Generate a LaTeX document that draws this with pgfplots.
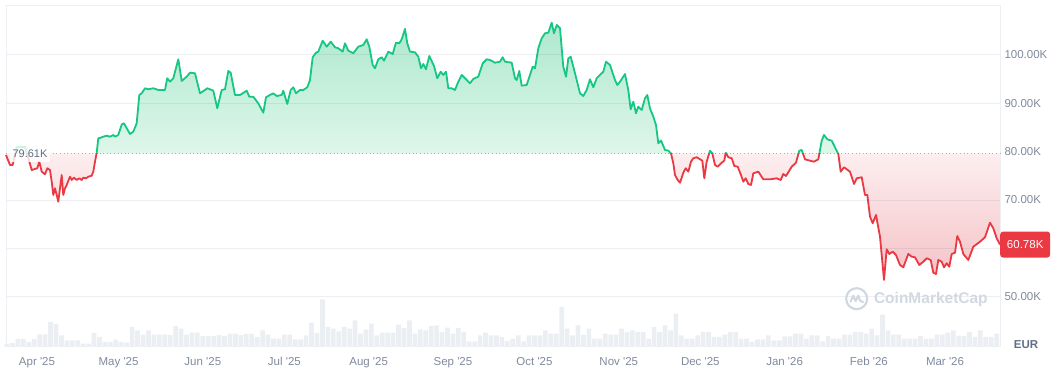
\documentclass[border=0pt]{standalone}
\usepackage{fontspec}
\setmainfont{Liberation Sans}
\usepackage{pgfplots}
\usepackage{pgfplotstable}
\pgfplotsset{compat=1.18}

\definecolor{upG}{HTML}{16C784}
\definecolor{dnR}{HTML}{EA3943}
\definecolor{fillG1}{HTML}{ADE8CE}
\definecolor{fillG2}{HTML}{DEF6EA}
\definecolor{fillR1}{HTML}{F4C2C6}
\definecolor{fillR2}{HTML}{FDEFF0}
\definecolor{gridc}{HTML}{ECEFF3}
\definecolor{gridl}{HTML}{58667E}
\definecolor{labc}{HTML}{808A9D}
\definecolor{lab2}{HTML}{616E85}
\definecolor{volc}{HTML}{EBEEF2}
\definecolor{dotc}{HTML}{A6AFC0}
\definecolor{wm}{HTML}{D2D8E2}

\pgfplotstableread{
d v
-11.40 79.31
-9.93 77.24
-8.94 77.24
-7.47 80.97
-4.41 80.97
-2.83 77.93
-1.95 76.21
0.11 76.56
0.85 77.93
1.73 75.86
2.94 75.32
3.79 76.56
4.78 76.21
5.41 73.79
6.00 71.04
6.62 72.42
7.25 71.04
7.83 69.65
8.46 72.42
9.09 75.17
9.67 71.04
10.30 72.42
10.92 73.11
12.14 74.82
12.76 74.14
13.61 74.62
14.60 74.14
15.56 74.49
16.44 74.14
17.03 74.62
18.02 74.49
18.87 74.82
20.12 75.03
20.71 75.86
21.34 77.93
21.96 79.73
22.55 82.77
23.17 82.83
24.39 83.10
25.64 83.30
26.85 83.10
28.07 83.45
28.69 83.10
29.91 83.45
31.16 85.62
32.00 85.87
33.00 84.83
34.21 83.65
35.42 84.13
36.67 85.87
37.63 91.72
38.51 92.07
39.73 93.11
40.94 92.90
42.78 93.11
44.62 92.76
47.08 92.76
47.93 95.18
48.92 94.47
50.14 95.18
51.98 99.10
53.23 94.62
55.07 95.51
56.28 96.33
58.12 96.21
59.96 92.07
61.80 92.76
62.64 93.11
64.85 92.61
66.32 88.97
67.94 92.76
69.15 92.90
70.37 96.68
71.25 96.33
72.83 91.72
74.67 91.72
77.14 92.61
78.09 91.37
79.56 91.37
81.40 90.00
83.24 88.06
84.24 91.25
85.71 91.72
86.92 92.07
88.17 91.51
90.01 91.72
90.60 92.61
92.07 89.86
93.32 92.76
94.28 93.31
95.27 92.07
96.74 92.76
97.96 92.76
99.43 93.31
100.42 94.82
101.41 99.52
102.63 100.47
103.47 100.68
105.09 102.95
106.56 101.71
108.03 102.75
109.62 101.59
110.83 101.38
112.45 100.68
113.29 102.41
114.51 100.88
116.35 100.35
118.19 101.71
120.03 102.06
121.28 103.24
122.23 101.71
123.48 97.93
124.33 97.24
125.54 99.10
126.79 99.52
127.64 98.82
129.22 100.68
130.84 100.20
132.05 102.54
133.27 102.41
134.15 103.24
135.37 105.37
136.21 102.41
137.20 100.68
139.04 100.55
140.26 99.64
141.25 97.24
142.10 98.13
143.09 97.04
144.31 99.79
146.03 97.72
147.24 95.18
148.50 96.54
149.45 95.86
150.45 96.54
151.29 93.11
152.54 93.11
153.76 92.76
154.97 94.47
156.22 95.86
157.44 95.18
159.27 94.14
160.49 95.03
162.33 95.51
163.95 98.28
165.42 99.10
166.63 98.96
168.47 98.40
170.31 98.61
171.30 99.52
172.15 98.61
174.61 98.40
175.83 95.18
176.45 94.82
177.41 96.68
178.29 93.64
180.13 93.79
181.35 95.86
182.34 97.57
183.19 97.24
184.40 101.38
185.65 103.45
186.86 104.48
188.08 104.61
189.33 106.67
190.17 104.48
191.17 106.20
192.38 105.52
193.59 97.57
194.59 95.51
195.44 99.31
196.32 99.64
197.90 96.21
199.74 92.07
200.95 91.51
202.20 92.76
203.41 94.97
204.63 93.31
205.88 95.18
207.09 95.86
208.31 96.54
209.30 98.61
210.77 97.93
212.61 94.82
213.46 93.79
214.45 94.47
216.29 96.06
217.50 92.76
218.38 88.76
219.35 90.34
220.34 87.94
221.18 89.30
222.43 88.62
223.65 91.04
224.49 91.72
225.48 88.97
226.70 87.23
227.69 85.52
228.54 81.73
229.53 82.31
231.00 80.35
232.22 80.20
233.21 79.66
234.06 77.59
234.68 75.17
235.68 74.14
236.52 73.58
237.74 75.65
238.62 76.56
239.58 75.86
240.57 77.93
241.42 78.63
242.66 78.84
243.88 78.42
244.73 78.13
245.46 74.49
246.34 77.93
247.55 80.20
248.40 79.66
249.40 77.24
250.39 76.89
251.86 77.72
252.81 78.13
253.33 79.79
254.30 78.84
255.54 78.63
256.50 77.04
257.75 76.89
258.96 75.17
259.81 73.79
260.69 74.49
261.65 73.31
262.64 73.11
263.49 75.53
265.33 75.86
267.17 74.28
269.63 74.28
272.09 74.49
273.56 74.14
274.52 75.38
275.51 74.97
277.61 76.89
279.19 77.72
280.40 80.20
281.29 80.35
282.50 78.42
284.34 78.13
285.82 77.93
287.40 78.42
288.02 80.35
288.65 82.27
289.49 83.45
290.71 82.56
292.33 82.27
293.90 80.49
294.75 79.52
295.63 75.86
296.85 76.77
299.05 75.86
300.53 73.31
301.52 74.49
303.36 74.70
304.57 71.04
305.42 71.04
306.41 66.55
307.40 65.18
308.62 66.90
310.09 62.41
311.56 53.46
312.55 59.81
313.51 58.84
314.76 59.31
315.97 58.63
317.44 56.56
318.66 56.08
320.50 58.84
321.75 58.28
322.96 58.15
324.54 56.56
326.02 57.24
327.27 57.95
328.74 57.59
329.69 54.97
330.69 54.70
331.53 57.59
332.78 57.24
333.63 56.08
334.62 56.91
335.58 56.21
336.46 58.84
337.68 59.10
338.52 62.56
339.51 61.38
340.73 58.84
342.57 57.59
344.41 60.34
346.87 61.38
348.71 62.29
350.55 65.31
351.76 64.15
353.02 62.08
354.23 60.78
}\price

\pgfplotstableread{
d vol
-11 10
-9 12
-7 24
-5 24
-3 15
-1 24
1 38
3 38
5 75
7 69
9 35
11 20
13 20
15 20
17 10
19 10
21 42
23 30
25 15
27 15
29 22
31 15
33 13
35 60
37 50
39 37
41 50
43 37
45 37
47 37
49 36
51 63
53 55
55 37
57 43
59 43
61 33
63 33
65 33
67 36
69 33
71 40
73 40
75 36
77 39
79 39
81 30
83 50
85 37
87 25
89 25
91 37
93 37
95 23
97 23
99 35
101 73
103 42
105 143
107 60
109 55
111 47
113 60
115 55
117 80
119 40
121 53
123 70
125 35
127 43
129 43
131 43
133 67
135 57
137 80
139 40
141 53
143 50
145 63
147 65
149 45
151 58
153 40
155 57
157 45
159 17
161 17
163 35
165 43
167 35
169 35
171 30
173 18
175 25
177 35
179 17
181 35
183 35
185 35
187 50
189 40
191 40
193 120
195 55
197 35
199 65
201 37
203 55
205 25
207 25
209 40
211 37
213 37
215 55
217 45
219 50
221 45
223 45
225 25
227 60
229 45
231 65
233 50
235 100
237 35
239 25
241 25
243 35
245 45
247 45
249 30
251 30
253 37
255 45
257 45
259 25
261 25
263 15
265 23
267 23
269 35
271 20
273 20
275 32
277 32
279 40
281 40
283 25
285 35
287 35
289 17
291 33
293 25
295 25
297 37
299 37
301 45
303 45
305 40
307 55
309 35
311 97
313 50
315 37
317 37
319 25
321 25
323 25
325 33
327 25
329 25
331 37
333 37
335 43
337 50
339 33
341 33
343 45
345 30
347 50
349 30
351 30
353 40
}\vol

\begin{document}
\begin{tikzpicture}[x=1pt,y=1pt]

% volume bars
\begin{axis}[at={(6pt,25pt)}, anchor=south west, scale only axis,
  width=994pt, height=342pt,
  xmin=-11.4, xmax=354.23, ymin=0, ymax=1026,
  hide axis, clip=false]
\addplot[ybar, bar width=4.7pt, fill=volc, draw=none] table[x=d,y=vol]{\vol};
\end{axis}

% price
\begin{axis}[at={(6pt,25pt)}, anchor=south west, scale only axis,
  width=994pt, height=342pt,
  xmin=-11.4, xmax=354.23, ymin=39.6, ymax=110.33,
  clip=false,
  axis line style={draw=none},
  major tick length=0pt, tick style={draw=none},
  xtick={0,30,61,91,122,153,183,214,244,275,306,334},
  xticklabels={Apr \textquotesingle25, May \textquotesingle25, Jun \textquotesingle25, Jul \textquotesingle25, Aug \textquotesingle25, Sep \textquotesingle25, Oct \textquotesingle25, Nov \textquotesingle25, Dec \textquotesingle25, Jan \textquotesingle26, Feb \textquotesingle26, Mar \textquotesingle26},
  ytick={50,70,80,90,100},
  yticklabels={50.00K,70.00K,80.00K,90.00K,100.00K},
  yticklabel pos=right,
  tick label style={text=labc, font=\fontsize{11.5}{13}\selectfont},
  xticklabel style={yshift=-7pt},
  yticklabel style={xshift=1pt},
]
% area above the reference price (green) and below it (red)
\begin{scope}
\clip (axis cs:-11.4,79.61) rectangle (axis cs:354.23,110.33);
\addplot[draw=none, top color=fillG1, bottom color=fillG2, middle color=fillG2]
  table[x=d,y=v]{\price} -- (axis cs:354.23,79.61) -- (axis cs:-11.4,79.61) -- cycle;
\end{scope}
\begin{scope}
\clip (axis cs:-11.4,39.6) rectangle (axis cs:354.23,79.61);
\addplot[draw=none, top color=fillR2, bottom color=fillR1, middle color=fillR2]
  table[x=d,y=v]{\price} -- (axis cs:354.23,79.61) -- (axis cs:-11.4,79.61) -- cycle;
\end{scope}

% grid
\draw[gridl, opacity=0.11, line width=1pt] (axis cs:-11.4,50) -- (axis cs:354.23,50);
\draw[gridl, opacity=0.11, line width=1pt] (axis cs:-11.4,60) -- (axis cs:354.23,60);
\draw[gridl, opacity=0.11, line width=1pt] (axis cs:-11.4,70) -- (axis cs:354.23,70);
\draw[gridl, opacity=0.11, line width=1pt] (axis cs:-11.4,90) -- (axis cs:354.23,90);
\draw[gridl, opacity=0.11, line width=1pt] (axis cs:-11.4,100) -- (axis cs:354.23,100);
% frame
\draw[gridc, line width=1pt] (axis cs:-11.4,39.6) rectangle (axis cs:354.23,110.33);
% baseline
\draw[dotc, line width=1pt, dash pattern=on 1pt off 2.6pt] (axis cs:-11.4,79.61) -- (axis cs:354.23,79.61);

\begin{scope}
\clip (axis cs:-14,79.61) rectangle (axis cs:357,112);
\addplot[upG, line width=1.8pt, line join=round, mark=none] table[x=d,y=v]{\price};
\end{scope}
\begin{scope}
\clip (axis cs:-14,38) rectangle (axis cs:357,79.61);
\addplot[dnR, line width=1.8pt, line join=round, mark=none] table[x=d,y=v]{\price};
\end{scope}

% watermark
\node[circle, draw=wm, line width=2.2pt, minimum size=21pt, inner sep=0pt] at (axis cs:301.5,49.59) {};
\draw[wm, line width=2pt, line join=round, line cap=round]
  ([shift={(-6pt,-3pt)}]axis cs:301.5,49.59) -- ++(2.5pt,6pt) -- ++(2.5pt,-5.5pt) -- ++(2.5pt,5.5pt) -- ++(2pt,-5pt) -- ++(3pt,-1.5pt);
\node[text=wm, font=\fontsize{15.5}{17}\selectfont\bfseries] at (axis cs:328.8,49.43) {CoinMarketCap};

% labels
\node[fill=white, fill opacity=0.8, text opacity=1, inner xsep=3pt, inner ysep=5pt, text=lab2, font=\fontsize{11}{13}\selectfont] at (axis cs:-2.57,79.61) {79.61K};
\node[anchor=west, fill=dnR, text=white, rounded corners=3pt, minimum width=50pt, minimum height=26pt, inner sep=0pt, font=\fontsize{11.5}{13}\selectfont] at (axis cs:354.23,60.78) {60.78K};
\node[text=lab2, font=\fontsize{11.5}{13}\selectfont\bfseries] at (axis cs:363.8,40.08) {EUR};
\end{axis}
\pgfresetboundingbox
\path[use as bounding box] (0,0) rectangle (1053,372);
\end{tikzpicture}
\end{document}
